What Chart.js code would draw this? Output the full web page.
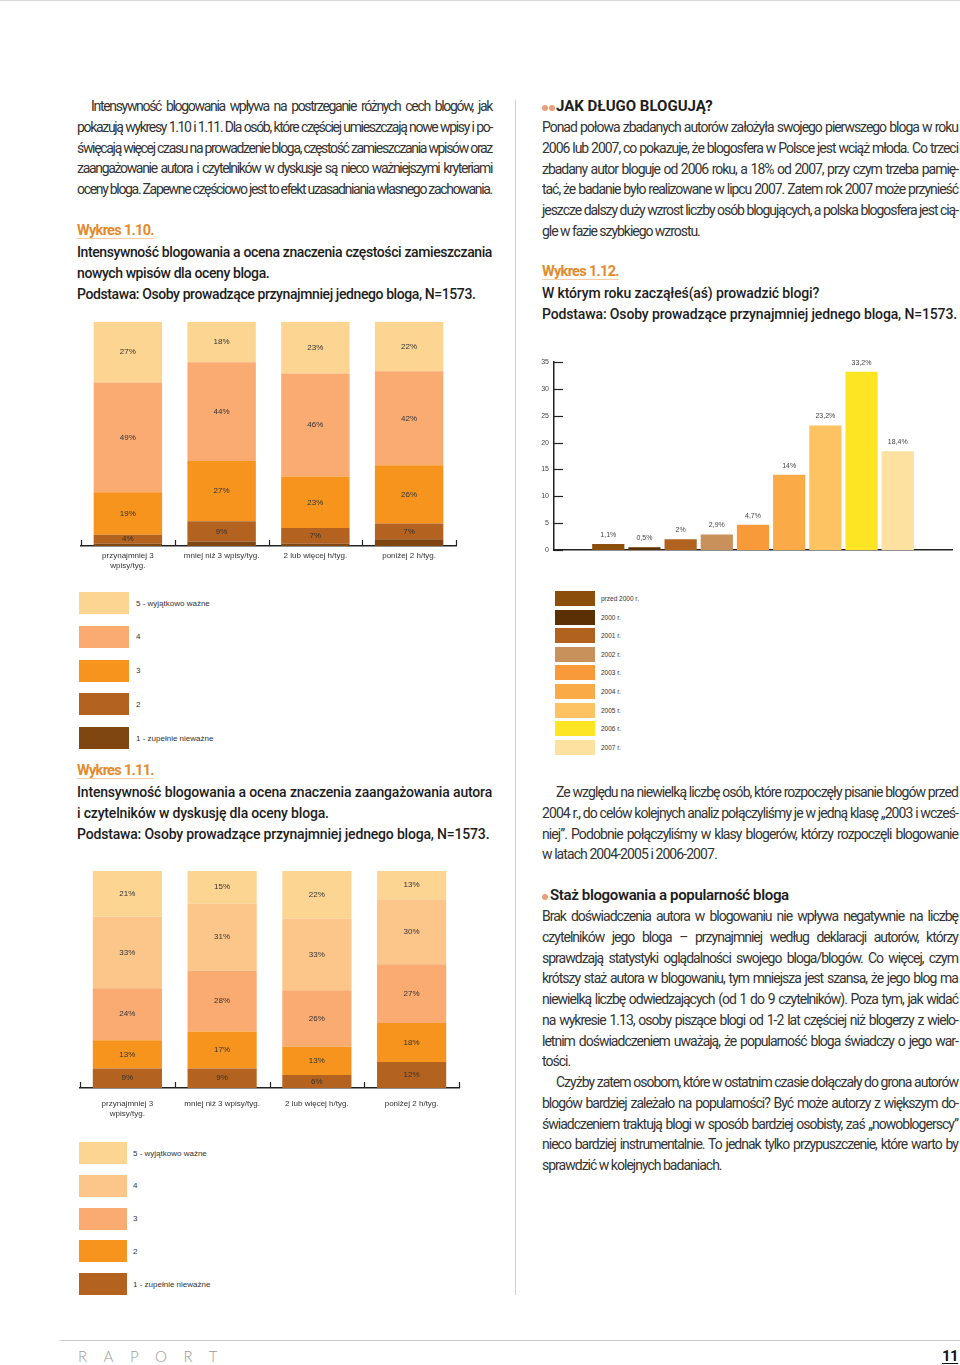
<!DOCTYPE html>
<html lang="pl">
<head>
<meta charset="utf-8">
<script src="https://cdn.jsdelivr.net/npm/chart.js@4.4.1/dist/chart.umd.min.js"></script>
<style>
  html, body { margin: 0; padding: 0; background: #fff; }
  #page { position: relative; width: 960px; height: 1365px; overflow: hidden; background: #fff; }
  .abs { position: absolute; }
  .txt { font-family: "Liberation Sans Narrow", "Roboto", sans-serif; font-size: 14px; line-height: 20.75px; color: #333; }
  .ln { display: block; white-space: nowrap; }
  .ln.j { text-align: justify; text-align-last: justify; }
  .ind { padding-left: 14px; }
  .wyk { font-family: "Roboto", "Liberation Sans", sans-serif; font-weight: 700; font-size: 14.5px; line-height: 20.75px; color: #e38b2c; letter-spacing: -0.7px;
         text-decoration: underline; text-decoration-color: #f6cda6; text-underline-offset: 3px; text-decoration-thickness: 1px; }
  .ttl { font-family: "Roboto", "Liberation Sans", sans-serif; font-weight: 500; font-size: 14px; line-height: 20.75px; color: #1d1d1d; }
  .hd { font-family: "Roboto", "Liberation Sans", sans-serif; font-weight: 700; font-size: 15px; line-height: 20.75px; color: #1d1d1d; }
  .dot { display: inline-block; width: 6px; height: 6px; border-radius: 50%; background: #e9a079; margin-right: 1px; vertical-align: 0px; }
  .leg { position: absolute; font-family: "Liberation Sans", Arial, sans-serif; color: #333; }
  .leg .it { position: absolute; left: 0; display: flex; align-items: center; }
  .leg .sw { display: inline-block; }
  canvas { position: absolute; }
</style>
</head>
<body>
<div id="page">
  <div class="abs" style="left:0;top:0;width:960px;height:1px;background:#d8d8d8"></div>
  <div class="abs" style="left:515px;top:100px;width:1px;height:1195px;background:#d0d0d0"></div>

  <!-- LEFT COLUMN -->
  <div class="abs txt blk" style="left:77px;top:96px;width:415px">
    <span class="ln j ind"><span>Intensywność blogowania wpływa na postrzeganie różnych cech blogów, jak</span></span>
    <span class="ln j"><span>pokazują wykresy 1.10 i 1.11. Dla osób, które częściej umieszczają nowe wpisy i po-</span></span>
    <span class="ln j"><span>święcają więcej czasu na prowadzenie bloga, częstość zamieszczania wpisów oraz</span></span>
    <span class="ln j"><span>zaangażowanie autora i czytelników w dyskusje są nieco ważniejszymi kryteriami</span></span>
    <span class="ln j"><span>oceny bloga. Zapewne częściowo jest to efekt uzasadniania własnego zachowania.</span></span>
  </div>
  <div class="abs wyk" style="left:77px;top:221px">Wykres 1.10.</div>
  <div class="abs ttl blk" style="left:77px;top:242px;width:415px">
    <span class="ln j"><span>Intensywność blogowania a ocena znaczenia częstości zamieszczania</span></span>
    <span class="ln"><span>nowych wpisów dla oceny bloga.</span></span>
    <span class="ln"><span>Podstawa: Osoby prowadzące przynajmniej jednego bloga, N=1573.</span></span>
  </div>
  <canvas id="c110" style="left:77px;top:318px" width="390" height="256"></canvas>
  <div id="leg110" class="leg" style="left:79px;top:592px;width:300px;height:160px"></div>

  <div class="abs wyk" style="left:77px;top:761px">Wykres 1.11.</div>
  <div class="abs ttl blk" style="left:77px;top:782px;width:415px">
    <span class="ln j"><span>Intensywność blogowania a ocena znaczenia zaangażowania autora</span></span>
    <span class="ln"><span>i czytelników w dyskusję dla oceny bloga.</span></span>
    <span class="ln"><span>Podstawa: Osoby prowadzące przynajmniej jednego bloga, N=1573.</span></span>
  </div>
  <canvas id="c111" style="left:77px;top:867px" width="390" height="255"></canvas>
  <div id="leg111" class="leg" style="left:79px;top:1142px;width:300px;height:160px"></div>

  <!-- RIGHT COLUMN -->
  <div class="abs hd" style="left:542px;top:96px"><span class="dot"></span><span class="dot"></span>JAK DŁUGO BLOGUJĄ?</div>
  <div class="abs txt blk" style="left:542px;top:117px;width:416px">
    <span class="ln j"><span>Ponad połowa zbadanych autorów założyła swojego pierwszego bloga w roku</span></span>
    <span class="ln j"><span>2006 lub 2007, co pokazuje, że blogosfera w Polsce jest wciąż młoda. Co trzeci</span></span>
    <span class="ln j"><span>zbadany autor bloguje od 2006 roku, a 18% od 2007, przy czym trzeba pamię-</span></span>
    <span class="ln j"><span>tać, że badanie było realizowane w lipcu 2007. Zatem rok 2007 może przynieść</span></span>
    <span class="ln j"><span>jeszcze dalszy duży wzrost liczby osób blogujących, a polska blogosfera jest cią-</span></span>
    <span class="ln"><span>gle w fazie szybkiego wzrostu.</span></span>
  </div>
  <div class="abs wyk" style="left:542px;top:262px">Wykres 1.12.</div>
  <div class="abs ttl blk" style="left:542px;top:283px;width:416px">
    <span class="ln"><span>W którym roku zacząłeś(aś) prowadzić blogi?</span></span>
    <span class="ln"><span>Podstawa: Osoby prowadzące przynajmniej jednego bloga, N=1573.</span></span>
  </div>
  <canvas id="c112" style="left:530px;top:345px" width="425" height="215"></canvas>
  <div id="leg112" class="leg" style="left:555px;top:591px;width:200px;height:170px"></div>

  <div class="abs txt blk" style="left:542px;top:782px;width:416px">
    <span class="ln j ind"><span>Ze względu na niewielką liczbę osób, które rozpoczęły pisanie blogów przed</span></span>
    <span class="ln j"><span>2004 r., do celów kolejnych analiz połączyliśmy je w jedną klasę „2003 i wcześ-</span></span>
    <span class="ln j"><span>niej”. Podobnie połączyliśmy w klasy blogerów, którzy rozpoczęli blogowanie</span></span>
    <span class="ln"><span>w latach 2004-2005 i 2006-2007.</span></span>
  </div>
  <div class="abs hd" style="left:542px;top:885px;font-size:15px;font-weight:600;letter-spacing:-0.35px"><span class="dot" style="margin-right:2px"></span>Staż blogowania a popularność bloga</div>
  <div class="abs txt blk" style="left:542px;top:906px;width:416px">
    <span class="ln j"><span>Brak doświadczenia autora w blogowaniu nie wpływa negatywnie na liczbę</span></span>
    <span class="ln j"><span>czytelników jego bloga – przynajmniej według deklaracji autorów, którzy</span></span>
    <span class="ln j"><span>sprawdzają statystyki oglądalności swojego bloga/blogów. Co więcej, czym</span></span>
    <span class="ln j"><span>krótszy staż autora w blogowaniu, tym mniejsza jest szansa, że jego blog ma</span></span>
    <span class="ln j"><span>niewielką liczbę odwiedzających (od 1 do 9 czytelników). Poza tym, jak widać</span></span>
    <span class="ln j"><span>na wykresie 1.13, osoby piszące blogi od 1-2 lat częściej niż blogerzy z wielo-</span></span>
    <span class="ln j"><span>letnim doświadczeniem uważają, że popularność bloga świadczy o jego war-</span></span>
    <span class="ln"><span>tości.</span></span>
    <span class="ln j ind"><span>Czyżby zatem osobom, które w ostatnim czasie dołączały do grona autorów</span></span>
    <span class="ln j"><span>blogów bardziej zależało na popularności? Być może autorzy z większym do-</span></span>
    <span class="ln j"><span>świadczeniem traktują blogi w sposób bardziej osobisty, zaś „nowoblogerscy”</span></span>
    <span class="ln j"><span>nieco bardziej instrumentalnie. To jednak tylko przypuszczenie, które warto by</span></span>
    <span class="ln"><span>sprawdzić w kolejnych badaniach.</span></span>
  </div>

  <!-- FOOTER -->
  <div class="abs" style="left:60px;top:1340px;width:900px;height:1px;background:#c8c8c8"></div>
  <div class="abs" style="left:78px;top:1347px;font-family:Lato,'Liberation Sans',sans-serif;font-weight:300;font-size:15px;color:#9a9a9a;letter-spacing:16.5px;line-height:18px">RAPORT</div>
  <div class="abs" style="left:942px;top:1347px;font-family:'Roboto',sans-serif;font-weight:bold;font-size:15px;letter-spacing:-0.5px;color:#111;line-height:18px;text-decoration:underline;text-underline-offset:2px">11</div>
</div>

<script>
// ---------- DATA ----------
const ratingLabels = ['1 - zupełnie nieważne', '2', '3', '4', '5 - wyjątkowo ważne'];
const intensityCats = [['przynajmniej 3', 'wpisy/tyg.'], 'mniej niż 3 wpisy/tyg.', '2 lub więcej h/tyg.', 'poniżej 2 h/tyg.'];

// Wykres 1.10 – share (%) per rating, for each intensity category
const freqRating1 = [1, 2, 1, 3];
const freqRating2 = [4, 9, 7, 7];
const freqRating3 = [19, 27, 23, 26];
const freqRating4 = [49, 44, 46, 42];
const freqRating5 = [27, 18, 23, 22];

// Wykres 1.11
const engRating1 = [9, 9, 6, 12];
const engRating2 = [13, 17, 13, 18];
const engRating3 = [24, 28, 26, 27];
const engRating4 = [33, 31, 33, 30];
const engRating5 = [21, 15, 22, 13];

// Wykres 1.12
const yearLabels = ['przed 2000 r.', '2000 r.', '2001 r.', '2002 r.', '2003 r.', '2004 r.', '2005 r.', '2006 r.', '2007 r.'];
const startShares = [1.1, 0.5, 2, 2.9, 4.7, 14, 23.2, 33.2, 18.4];
const startAxisMax = 35;
const startAxisStep = 5;

// ---------- STYLES ----------
const colors110 = ['#7f4612', '#b3621f', '#f7941e', '#f9ab72', '#fdd592'];
const colors111 = ['#b3621f', '#f7941e', '#f9ab72', '#fcc68a', '#fdd592'];
const colors112 = ['#8b4f0b', '#5b3005', '#b2621f', '#c8915c', '#f89a3a', '#fbaa48', '#fdc262', '#fde524', '#fde1a0'];
const labelFont = '8px "Liberation Sans", Arial, sans-serif';

// ---------- TEXT FITTING (uniform tracking per block) ----------
document.querySelectorAll('.blk').forEach(blk => {
  let ls = 0;
  blk.querySelectorAll('.ln').forEach(el => {
    const span = el.firstElementChild;
    const cs = getComputedStyle(el);
    const avail = el.clientWidth - parseFloat(cs.paddingLeft) - parseFloat(cs.paddingRight);
    const w = span.getBoundingClientRect().width;
    if (w > avail - 1) ls = Math.min(ls, (avail - 1 - w) / span.textContent.length);
  });
  if (ls < 0) blk.style.letterSpacing = ls + 'px';
});

// ---------- PLUGINS ----------
const segLabels = {
  id: 'segLabels',
  afterDatasetsDraw(chart, args, opts) {
    const ctx = chart.ctx;
    ctx.save();
    ctx.font = opts.font;
    ctx.fillStyle = opts.color;
    ctx.textAlign = 'center';
    ctx.textBaseline = 'middle';
    chart.data.datasets.forEach((ds, di) => {
      if (ds.noLabel) return;
      const meta = chart.getDatasetMeta(di);
      meta.data.forEach((el, i) => {
        const v = ds.data[i];
        if (v === null || v === undefined) return;
        const txt = String(v).replace('.', ',') + '%';
        if (opts.position === 'top') ctx.fillText(txt, el.x, el.y - opts.offset);
        else ctx.fillText(txt, el.x, (el.y + el.base) / 2);
      });
    });
    ctx.restore();
  }
};

const innerTicks = {
  id: 'innerTicks',
  afterDatasetsDraw(chart, args, opts) {
    if (!opts || !opts.mode) return;
    const ctx = chart.ctx;
    ctx.save();
    ctx.strokeStyle = opts.color;
    ctx.lineWidth = opts.width;
    if (opts.mode === 'x') {
      const s = chart.scales.x;
      const n = s.ticks.length;
      const w = (s.right - s.left) / n;
      for (let k = 0; k <= n; k++) {
        const px = Math.round(s.left + k * w) + 0.5;
        ctx.beginPath(); ctx.moveTo(px, s.top); ctx.lineTo(px, s.top - opts.len); ctx.stroke();
      }
    } else {
      const s = chart.scales.y;
      s.ticks.forEach((t, i) => {
        const py = Math.round(s.getPixelForTick(i)) + 0.5;
        ctx.beginPath(); ctx.moveTo(s.right, py); ctx.lineTo(s.right + opts.len, py); ctx.stroke();
      });
    }
    ctx.restore();
  }
};

// ---------- STACKED CHART FACTORY ----------
function stackedChart(id, series, colors, hideFirstLabel, pad, labelPad, axisH) {
  return new Chart(document.getElementById(id), {
    type: 'bar',
    data: {
      labels: intensityCats,
      datasets: series.map((d, i) => ({
        label: ratingLabels[i],
        data: d,
        backgroundColor: colors[i],
        borderWidth: 0,
        barPercentage: 0.73,
        categoryPercentage: 1,
        noLabel: hideFirstLabel && i === 0
      }))
    },
    options: {
      responsive: false,
      animation: false,
      layout: { padding: pad },
      plugins: {
        legend: { display: false },
        tooltip: { enabled: false },
        segLabels: { font: labelFont, color: '#333', position: 'middle' },
        innerTicks: { mode: 'x', color: '#222', width: 1.2, len: 6 }
      },
      scales: {
        x: {
          stacked: true,
          grid: { display: false, drawTicks: false },
          border: { display: true, color: '#222', width: 1.5 },
          ticks: { font: { family: '"Liberation Sans", Arial, sans-serif', size: 8, lineHeight: 1.25 }, color: '#333', padding: labelPad, maxRotation: 0, autoSkip: false },
          afterFit: s => { s.height = axisH; }
        },
        y: { stacked: true, min: 0, max: 100, display: false }
      }
    },
    plugins: [segLabels, innerTicks]
  });
}

stackedChart('c110', [freqRating1, freqRating2, freqRating3, freqRating4, freqRating5], colors110, true,
  { top: 4, left: 4, right: 11, bottom: 0 }, 5, 28);
stackedChart('c111', [engRating1, engRating2, engRating3, engRating4, engRating5], colors111, false,
  { top: 4, left: 3, right: 8, bottom: 0 }, 11, 34);

// ---------- 1.12 ----------
new Chart(document.getElementById('c112'), {
  type: 'bar',
  data: {
    labels: ['', ...yearLabels, ''],
    datasets: [{
      label: 'Rok rozpoczęcia',
      data: [null, ...startShares, null],
      backgroundColor: ['rgba(0,0,0,0)', ...colors112, 'rgba(0,0,0,0)'],
      borderWidth: 0,
      barPercentage: 0.89,
      categoryPercentage: 1
    }]
  },
  options: {
    responsive: false,
    animation: false,
    layout: { padding: { top: 17, right: 3, left: 0, bottom: 0 } },
    plugins: {
      legend: { display: false },
      tooltip: { enabled: false },
      segLabels: { font: '7px "Liberation Sans", Arial, sans-serif', color: '#444', position: 'top', offset: 9 },
      innerTicks: { mode: 'y', color: '#222', width: 1.2, len: 9 }
    },
    scales: {
      x: {
        grid: { display: false, drawTicks: false },
        border: { display: true, color: '#222', width: 1.5 },
        ticks: { display: false },
        afterFit: s => { s.height = 10; }
      },
      y: {
        min: 0, max: startAxisMax,
        grid: { display: false, drawTicks: false },
        border: { display: true, color: '#222', width: 1.5 },
        ticks: { stepSize: startAxisStep, font: { family: '"Liberation Sans", Arial, sans-serif', size: 7 }, color: '#444', padding: 5 },
        afterFit: s => { s.width = 24; }
      }
    }
  },
  plugins: [segLabels, innerTicks]
});

// ---------- HTML LEGENDS ----------
function buildLegend(id, labels, colors, opt) {
  const box = document.getElementById(id);
  labels.forEach((lab, i) => {
    const it = document.createElement('div');
    it.className = 'it';
    it.style.top = (i * opt.step) + 'px';
    const sw = document.createElement('span');
    sw.className = 'sw';
    sw.style.width = opt.w + 'px';
    sw.style.height = opt.h + 'px';
    sw.style.background = colors[i];
    const tx = document.createElement('span');
    tx.textContent = lab;
    tx.style.marginLeft = opt.gap + 'px';
    tx.style.fontSize = opt.fs + 'px';
    it.appendChild(sw); it.appendChild(tx);
    box.appendChild(it);
  });
}
buildLegend('leg110', ratingLabels.slice().reverse(), colors110.slice().reverse(), { step: 33.8, w: 50, h: 22, gap: 7, fs: 8 });
buildLegend('leg111', ratingLabels.slice().reverse(), colors111.slice().reverse(), { step: 32.8, w: 48, h: 22, gap: 6, fs: 8 });
buildLegend('leg112', yearLabels, colors112, { step: 18.6, w: 40, h: 15, gap: 6, fs: 6.5 });
</script>
</body>
</html>
